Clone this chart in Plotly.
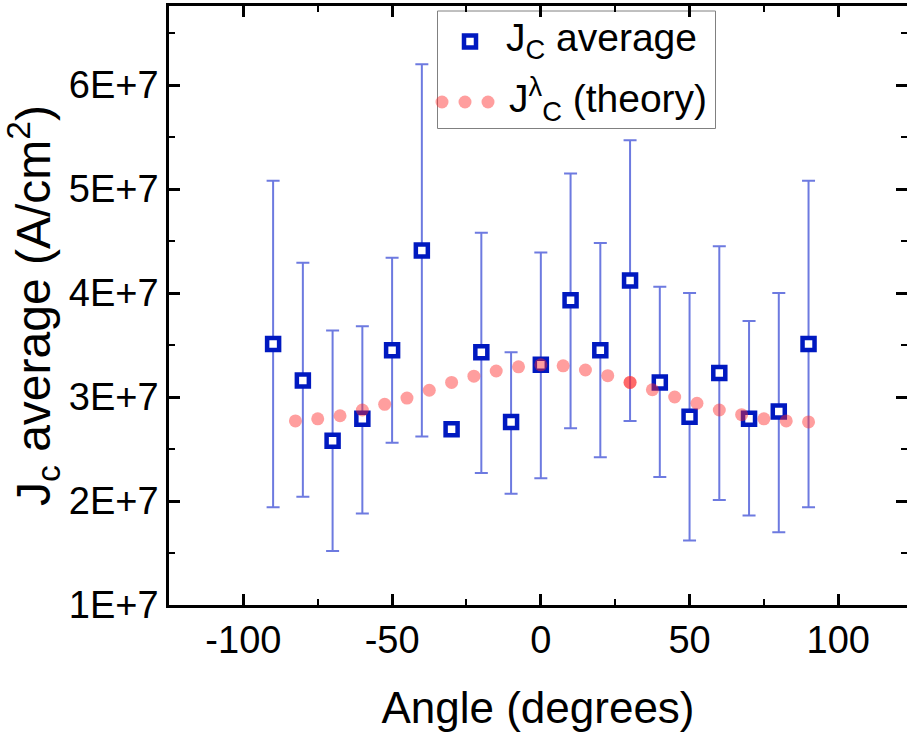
import plotly.graph_objects as go
import numpy as np

# ---------------- data ----------------
angles = [-90, -80, -70, -60, -50, -40, -30, -20, -10, 0, 10, 20, 30, 40, 50, 60, 70, 80, 90]
jc_avg = [3.51e7, 3.16e7, 2.58e7, 2.79e7, 3.45e7, 4.41e7, 2.69e7, 3.43e7, 2.76e7, 3.31e7,
          3.93e7, 3.45e7, 4.12e7, 3.14e7, 2.81e7, 3.23e7, 2.79e7, 2.86e7, 3.51e7]
jc_upper = [5.08e7, 4.29e7, 3.64e7, 3.68e7, 4.34e7, 6.20e7, None, 4.58e7, 3.43e7, 4.39e7,
            5.15e7, 4.48e7, 5.47e7, 4.06e7, 4.00e7, 4.45e7, 3.73e7, 4.00e7, 5.08e7]
jc_lower = [1.94e7, 2.04e7, 1.52e7, 1.88e7, 2.56e7, 2.62e7, None, 2.27e7, 2.07e7, 2.22e7,
            2.70e7, 2.42e7, 2.77e7, 2.23e7, 1.62e7, 2.01e7, 1.86e7, 1.70e7, 1.94e7]

theory_angles = [-82.5, -75, -67.5, -60, -52.5, -45, -37.5, -30, -22.5, -15, -7.5, 0,
                 7.5, 15, 22.5, 30, 30, 37.5, 45, 52.5, 60, 67.5, 75, 82.5, 90]
theory_jc = [2.77e7, 2.79e7, 2.82e7, 2.875e7, 2.93e7, 2.99e7, 3.065e7, 3.14e7, 3.20e7, 3.25e7,
             3.29e7, 3.31e7, 3.30e7, 3.26e7, 3.205e7, 3.14e7, 3.14e7, 3.07e7, 3.0e7, 2.94e7,
             2.875e7, 2.83e7, 2.79e7, 2.77e7, 2.76e7]

x_tickvals = [-100, -50, 0, 50, 100]
x_ticktext = ["-100", "-50", "0", "50", "100"]
y_tickvals = [1e7, 2e7, 3e7, 4e7, 5e7, 6e7]
y_ticktext = ["1E+7", "2E+7", "3E+7", "4E+7", "5E+7", "6E+7"]

legend_labels = ["J<sub>C</sub> average", "J<sup>λ</sup><sub>C</sub> (theory)"]

# ---------------- styling ----------------
FONT = "Arial, Liberation Sans, sans-serif"
BLUE = "#0019C0"
ERR = "rgba(20,40,205,0.62)"
PINK = "rgba(255,40,40,0.45)"

W, H = 907, 734
L, R, T, B = 169, 0, 6, 129
XR = [-125, 123.1]
YR = [1e7, 6.76e7]

ang = np.array(angles, dtype=float)
avg = np.array(jc_avg, dtype=float)
up = np.array([np.nan if v is None else v for v in jc_upper])
lo = np.array([np.nan if v is None else v for v in jc_lower])
has_err = ~np.isnan(up)

fig = go.Figure()

marker_sq = dict(symbol="square", size=12, color="white",
                 line=dict(color=BLUE, width=4.5))
marker_dot = dict(symbol="circle", size=13, color=PINK, line=dict(width=0))

fig.add_trace(go.Scatter(
    x=ang[has_err], y=avg[has_err], mode="markers", marker=marker_sq,
    error_y=dict(type="data", symmetric=False,
                 array=(up - avg)[has_err], arrayminus=(avg - lo)[has_err],
                 color=ERR, thickness=2, width=6.5),
    showlegend=False, hoverinfo="x+y"))
fig.add_trace(go.Scatter(
    x=ang[~has_err], y=avg[~has_err], mode="markers", marker=marker_sq,
    showlegend=False, hoverinfo="x+y"))
fig.add_trace(go.Scatter(
    x=theory_angles, y=theory_jc, mode="markers", marker=marker_dot,
    showlegend=False, hoverinfo="x+y"))

# ---- legend (drawn manually in paper space via an invisible overlay axis) ----
def px2paper_x(px):
    return (px - L) / (W - L - R)

def px2paper_y(py):
    return (H - B - py) / (H - T - B)

fig.add_trace(go.Scatter(
    x=[px2paper_x(470)], y=[px2paper_y(41.5)], xaxis="x3", yaxis="y3",
    mode="markers", marker=marker_sq, showlegend=False, hoverinfo="skip"))
fig.add_trace(go.Scatter(
    x=[px2paper_x(442), px2paper_x(465), px2paper_x(488)],
    y=[px2paper_y(102)] * 3, xaxis="x3", yaxis="y3",
    mode="markers", marker=marker_dot, showlegend=False, hoverinfo="skip"))

fig.add_shape(type="rect", xref="paper", yref="paper",
              x0=px2paper_x(437.5), x1=px2paper_x(715.5),
              y0=px2paper_y(128.5), y1=px2paper_y(11),
              line=dict(color="#808080", width=1), fillcolor="white", layer="below")

fig.add_annotation(xref="paper", yref="paper", x=px2paper_x(504), y=px2paper_y(41),
                   text=legend_labels[0], showarrow=False, xanchor="left", yanchor="middle",
                   font=dict(family=FONT, size=39, color="black"))
fig.add_annotation(xref="paper", yref="paper", x=px2paper_x(507), y=px2paper_y(99),
                   text=legend_labels[1], showarrow=False, xanchor="left", yanchor="middle",
                   font=dict(family=FONT, size=39, color="black"))

axis_common = dict(ticks="inside", ticklen=11, tickwidth=2.5, tickcolor="black",
                   showgrid=False, zeroline=False, automargin=False,
                   showline=True, linewidth=2.5, linecolor="black", mirror="ticks")

fig.update_layout(
    width=W, height=H,
    margin=dict(l=L, r=R, t=T, b=B, pad=0),
    paper_bgcolor="white", plot_bgcolor="white",
    font=dict(family=FONT, color="black"),
    xaxis=dict(range=XR, tickvals=x_tickvals, ticktext=x_ticktext,
               minor=dict(dtick=25, tick0=0, ticks="inside", ticklen=6, tickwidth=2, tickcolor="black"),
               tickfont=dict(size=38, family=FONT),
               title=dict(text="Angle (degrees)", font=dict(size=44, family=FONT), standoff=32),
               **axis_common),
    yaxis=dict(range=YR, tickvals=y_tickvals, ticktext=y_ticktext,
               minor=dict(dtick=5e6, tick0=0, ticks="inside", ticklen=6, tickwidth=2, tickcolor="black"),
               tickfont=dict(size=38, family=FONT),
               title=dict(text="J<sub>c</sub> average (A/cm<sup>2</sup>)",
                          font=dict(size=48, family=FONT), standoff=8),
               **axis_common),
    xaxis3=dict(range=[0, 1], overlaying="x", visible=False, fixedrange=True),
    yaxis3=dict(range=[0, 1], overlaying="y", visible=False, fixedrange=True),
)

fig.write_html("out.html", config={"displayModeBar": False},
               post_script="document.body.style.margin='0px';")
